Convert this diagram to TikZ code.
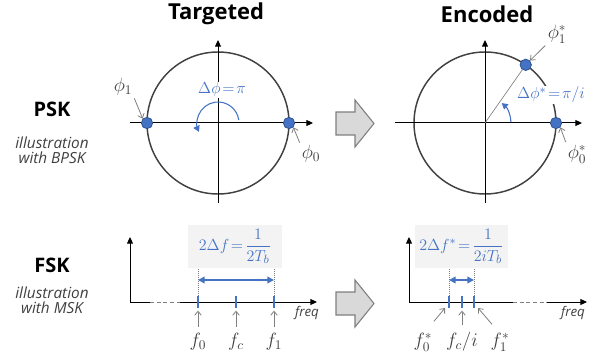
\documentclass[tikz,border=0pt]{standalone}
\usepackage{amsmath}
\usepackage{fontspec}
\setmainfont{Open Sans}
\usetikzlibrary{arrows.meta,calc}
\definecolor{encblue}{HTML}{4472C4}
\definecolor{encdark}{HTML}{2F528F}
\definecolor{encgray}{HTML}{404040}
\definecolor{ptrgray}{HTML}{7F7F7F}
\definecolor{boxgray}{HTML}{F3F3F3}
\definecolor{mapfill}{HTML}{D9D9D9}

\begin{document}
\begin{tikzpicture}[x=0.75pt,y=-0.75pt,
  title/.style={font=\fontsize{16.5}{19}\selectfont\bfseries},
  mod/.style={font=\fontsize{15}{17}\selectfont\bfseries},
  note/.style={font=\fontsize{11.5}{11}\selectfont\itshape, text=encgray, align=center},
  lbl/.style={font=\fontsize{14}{16}\selectfont, text=encgray, inner sep=1pt},
  bluelbl/.style={font=\fontsize{12.5}{15}\selectfont, text=encblue, inner sep=1pt,
    execute at begin node={\thickmuskip=2mu\relax}},
  freqlbl/.style={font=\fontsize{10}{12}\selectfont\itshape, text=encgray},
  unit/.style={draw=encgray, line width=1.1pt},
  axis/.style={-{Triangle[length=5pt,width=4.5pt]}, line width=0.75pt},
  dot/.style={circle, fill=encblue, draw=encdark, line width=0.6pt, minimum size=8.5pt, inner sep=0pt},
  ptr/.style={-{Straight Barb[length=3pt,width=5pt]}, ptrgray, line width=0.6pt},
  turn/.style={-{Triangle[length=4.5pt,width=5pt]}, encblue, line width=0.8pt},
  span/.style={{Triangle[length=5pt,width=5pt]}-{Triangle[length=5pt,width=5pt]}, encblue, line width=1.2pt},
  tone/.style={encblue, line width=2pt},
  guide/.style={ptrgray, densely dotted, line width=0.5pt},
  gap/.style={densely dashed, line width=0.75pt, ptrgray},
  rule/.style={fill=boxgray, minimum width=70pt, minimum height=32pt, inner sep=2pt},
  mapto/.style={draw=ptrgray, fill=mapfill, line width=0.8pt}
]
  \useasboundingbox (0,0) rectangle (606,356);

  \node[title] (tgt) at (216,14) {Targeted};
  \node[title] (enc) at (487,14) {Encoded};

  \node[mod] (psk) at (52,109) {PSK};
  \node[note] (pskn) at (52,150) {illustration\\with BPSK};
  \node[mod] (fsk) at (52,265) {FSK};
  \node[note] (fskn) at (52,300) {illustration\\with MSK};

  \coordinate (oL) at (218,123);
  \draw[unit] (oL) circle (71);
  \draw[axis] (218,203) -- (218,40);
  \draw[axis] (130,123) -- (313,123);
  \node[bluelbl, fill=white] (dphi) at (222,90) {$\Delta\phi=\pi$};
  \draw[turn] ($(oL)+(-8:21)$) arc (-8:-205:21);
  \node[dot] (p1) at (147,123) {};
  \node[dot] (p0) at (289,123) {};
  \node[lbl] (l1) at (123,87) {$\phi_1$};
  \node[lbl] (l0) at (311,154) {$\phi_0$};
  \draw[ptr, shorten <=1pt] (l1.south east) -- (p1.north west);
  \draw[ptr, shorten <=1pt] (l0.north west) -- (p0.south east);

  \coordinate (oR) at (485,123);
  \draw[unit] (oR) circle (71);
  \draw[axis] (485,203) -- (485,40);
  \draw[axis] (395,123) -- (582,123);
  \node[dot] (q1) at ($(oR)+(-55:71)$) {};
  \draw[ptrgray, line width=0.5pt] (oR) -- (q1);
  \draw[turn] ($(oR)+(-2:26)$) arc (-2:-50:26);
  \node[bluelbl, fill=white] (dphis) at (551,95) {$\Delta\phi^*=\pi/i$};
  \node[dot] (q0) at (556,123) {};
  \node[lbl] (l1s) at (557,34) {$\phi_1^*$};
  \node[lbl] (l0s) at (577,154) {$\phi_0^*$};
  \draw[ptr, shorten <=1pt] (l1s.south west) -- (q1.north east);
  \draw[ptr, shorten <=1pt] (l0s.north west) -- (q0.south east);

  \foreach \y in {123.5, 303.5}
    \draw[mapto] (336,\y-11.5) -- ++(19,0) -- ++(0,-12) -- (374,\y)
      -- (355,\y+23.5) -- ++(0,-12) -- (336,\y+11.5) -- cycle;

  \draw[axis] (130,302) -- (130,237);
  \draw[line width=0.75pt] (130,302) -- (150,302);
  \draw[gap] (150,302) -- (180,302);
  \draw[axis] (180,302) -- (317,302);
  \foreach \n/\x in {a/198, c/236, b/274} {
    \coordinate (t\n) at (\x,302);
    \draw[tone] (\x,296) -- (\x,308);
  }
  \draw[guide] (198,296) -- (198,265);
  \draw[guide] (274,296) -- (274,265);
  \draw[span] (198,280) -- (274,280);
  \node[rule, bluelbl] (dfL) at (235,246.5) {$2\Delta f=\dfrac{1}{2T_b}$};
  \node[lbl] (f0) at (198,342) {$f_0$};
  \node[lbl] (fc) at (236,342) {$f_c$};
  \node[lbl] (f1) at (274,342) {$f_1$};
  \foreach \s/\t in {f0/ta, fc/tc, f1/tb}
    \draw[ptr, shorten <=4pt, shorten >=6.5pt] (\s.north) -- (\t);
  \node[freqlbl] (frL) at (307,313) {freq};

  \draw[axis] (409,302) -- (409,237);
  \draw[line width=0.75pt] (409,302) -- (513,302);
  \draw[gap] (513,302) -- (547,302);
  \draw[axis] (547,302) -- (587,302);
  \foreach \n/\x in {u/449, m/462, v/474} {
    \coordinate (t\n) at (\x,302);
    \draw[tone] (\x,296) -- (\x,308);
  }
  \draw[guide] (449,296) -- (449,265);
  \draw[guide] (474,296) -- (474,265);
  \draw[span] (449,280) -- (474,280);
  \node[rule, bluelbl] (dfR) at (461.5,246.5) {$2\Delta f^*=\dfrac{1}{2iT_b}$};
  \node[lbl] (f0s) at (423,342) {$f_0^*$};
  \node[lbl] (fcs) at (462,342) {$f_c/i$};
  \node[lbl] (f1s) at (500,342) {$f_1^*$};
  \draw[ptr] ([shift={(0,-10)}]f0s.north east) -- ([shift={(-4,6)}]tu);
  \draw[ptr, shorten <=4pt, shorten >=6.5pt] (fcs.north) -- (tm);
  \draw[ptr] ([shift={(3,-7)}]f1s.north west) -- ([shift={(4,6)}]tv);
  \node[freqlbl] (frR) at (573,313) {freq};
\end{tikzpicture}
\end{document}
